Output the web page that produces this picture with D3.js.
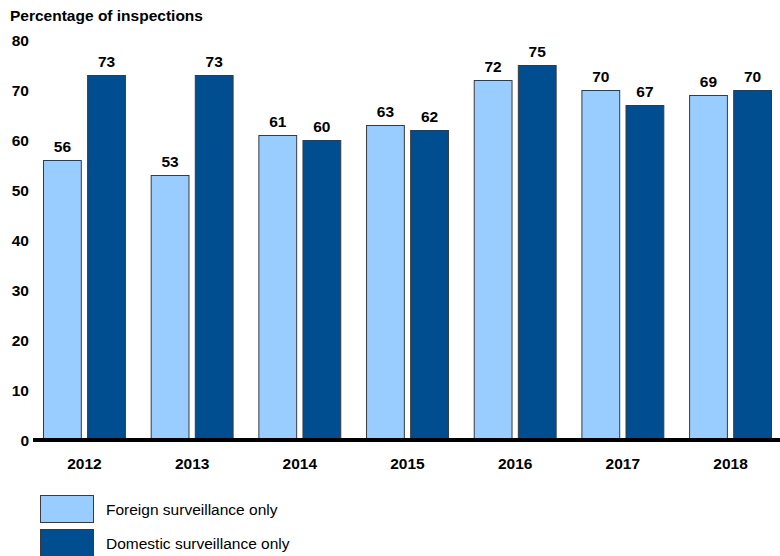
<!DOCTYPE html>
<html>
<head>
<meta charset="utf-8">
<script src="https://cdn.jsdelivr.net/npm/d3@7"></script>
<style>
  body { margin: 0; background: #fff; }
  text { font-family: Arial, "Liberation Sans", sans-serif; }
</style>
</head>
<body>
<script>
const width = 780;
const height = 556;

const years = ["2012", "2013", "2014", "2015", "2016", "2017", "2018"];
const seriesNames = ["Foreign surveillance only", "Domestic surveillance only"];
const foreign = [56, 53, 61, 63, 72, 70, 69];
const domestic = [73, 73, 60, 62, 75, 67, 70];
const yTicks = [0, 10, 20, 30, 40, 50, 60, 70, 80];
const colors = ["#99ccff", "#004d8f"];

const fs = 15.5;

const svg = d3.select("body").append("svg")
    .attr("width", width)
    .attr("height", height);

const x = d3.scaleBand()
    .domain(years)
    .range([43, 772])
    .paddingInner(0.23)
    .paddingOuter(0);

const xSub = d3.scaleBand()
    .domain([0, 1])
    .range([0, x.bandwidth()])
    .paddingInner(0.12);

const y = d3.scaleLinear()
    .domain([0, 80])
    .range([440, 40]);

// title
svg.append("text")
    .attr("x", 10)
    .attr("y", 21)
    .attr("font-size", fs)
    .attr("font-weight", "bold")
    .text("Percentage of inspections");

// y axis labels
svg.append("g")
    .selectAll("text")
    .data(yTicks)
    .enter().append("text")
    .attr("x", 29)
    .attr("y", d => y(d))
    .attr("dy", "0.36em")
    .attr("text-anchor", "end")
    .attr("font-size", fs)
    .attr("font-weight", "bold")
    .text(d => d);

const rows = years.map((yr, i) => ({ year: yr, values: [foreign[i], domestic[i]] }));

const groups = svg.append("g")
    .selectAll("g")
    .data(rows)
    .enter().append("g")
    .attr("transform", d => `translate(${x(d.year)},0)`);

groups.selectAll("rect")
    .data(d => d.values)
    .enter().append("rect")
    .attr("x", (d, i) => xSub(i) + 0.5)
    .attr("y", d => y(d) + 0.5)
    .attr("width", xSub.bandwidth() - 1)
    .attr("height", d => y(0) - y(d))
    .attr("fill", (d, i) => colors[i])
    .attr("stroke", "#3a3a3a")
    .attr("stroke-width", 1);

groups.selectAll("text.value")
    .data(d => d.values)
    .enter().append("text")
    .attr("class", "value")
    .attr("x", (d, i) => xSub(i) + xSub.bandwidth() / 2)
    .attr("y", d => y(d) - 8)
    .attr("text-anchor", "middle")
    .attr("font-size", fs)
    .attr("font-weight", "bold")
    .text(d => d);

// baseline
svg.append("line")
    .attr("x1", 33)
    .attr("x2", 780)
    .attr("y1", y(0))
    .attr("y2", y(0))
    .attr("stroke", "#000")
    .attr("stroke-width", 4);

// x labels
svg.append("g")
    .selectAll("text")
    .data(years)
    .enter().append("text")
    .attr("x", d => x(d) + x.bandwidth() / 2)
    .attr("y", 469)
    .attr("text-anchor", "middle")
    .attr("font-size", fs)
    .attr("font-weight", "bold")
    .text(d => d);

// legend
const legend = svg.append("g")
    .selectAll("g")
    .data(seriesNames)
    .enter().append("g")
    .attr("transform", (d, i) => `translate(40,${495 + i * 34})`);

legend.append("rect")
    .attr("x", 0.5)
    .attr("y", 0.5)
    .attr("width", 53)
    .attr("height", 27)
    .attr("fill", (d, i) => colors[i])
    .attr("stroke", "#3a3a3a");

legend.append("text")
    .attr("x", 66)
    .attr("y", 14)
    .attr("dy", "0.36em")
    .attr("font-size", fs)
    .text(d => d);
</script>
</body>
</html>
